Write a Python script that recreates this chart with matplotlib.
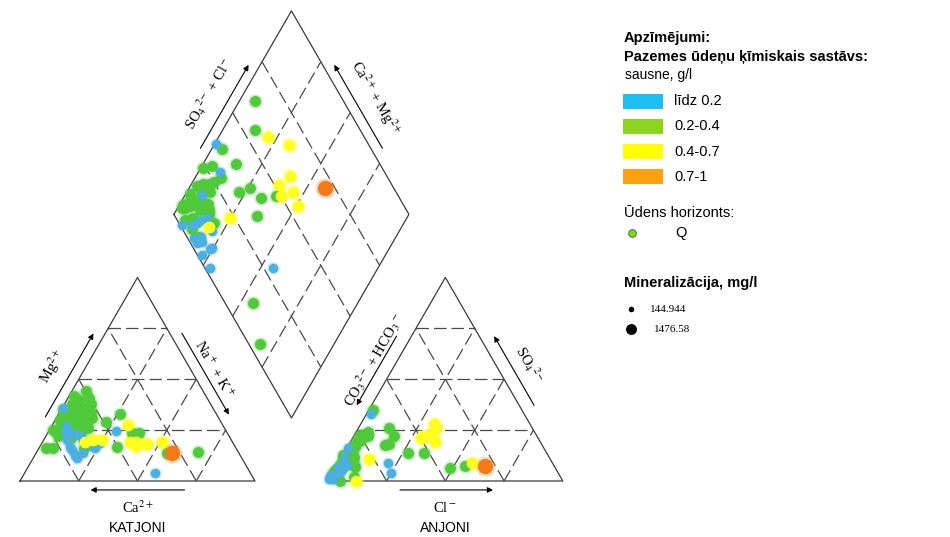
import numpy as np
import matplotlib.pyplot as plt
from matplotlib.patches import Rectangle

plt.rcParams['mathtext.fontset'] = 'stix'

# fractions (meq): cations Mg, Na+K (Ca = rest); anions SO4, Cl (CO3+HCO3 = rest)
blue_mg = [0.039, 0.186, 0.245, 0.152, 0.127, 0.167, 0.113, 0.24, 0.24, 0.358, 0.20, 0.17, 0.14, 0.27, 0.22,
           0.20, 0.16, 0.23]
blue_nak = [0.555, 0.247, 0.286, 0.145, 0.17, 0.13, 0.187, 0.07, 0.09, 0.004, 0.10, 0.22, 0.20, 0.06, 0.15,
            0.17, 0.24, 0.12]
blue_so4 = [0.04, 0.05, 0.01, 0.02, 0.04, 0.08, 0.03, 0.16, 0.088, 0.33, 0.03, 0.02, 0.08, 0.01, 0.12,
            0.03, 0.05, 0.07]
blue_cl = [0.25, 0.03, 0.015, 0.01, 0.02, 0.02, 0.02, 0.005, 0.212, 0.02, 0.02, 0.0, 0.04, 0.0, 0.01,
           0.0, 0.02, 0.01]

green_mg = [0.42, 0.40, 0.38, 0.36, 0.35, 0.33, 0.32, 0.30, 0.30, 0.28, 0.27, 0.25, 0.24, 0.22, 0.21,
            0.34, 0.38, 0.26, 0.31, 0.44, 0.16, 0.16, 0.29, 0.33, 0.235, 0.235, 0.167, 0.162, 0.142,
            0.14, 0.30, 0.28, 0.38, 0.30, 0.36, 0.25, 0.37, 0.33, 0.29, 0.41, 0.27, 0.35, 0.31, 0.23]
green_nak = [0.02, 0.05, 0.03, 0.08, 0.01, 0.05, 0.10, 0.02, 0.07, 0.12, 0.04, 0.09, 0.14, 0.05, 0.11,
             0.13, 0.11, 0.16, 0.15, 0.06, 0.03, 0.06, 0.22, 0.26, 0.36, 0.39, 0.33, 0.19, 0.686,
             0.556, 0.065, 0.138, 0.046, 0.14, 0.09, 0.015, 0.04, 0.09, 0.05, 0.09, 0.10, 0.06, 0.03, 0.08]
green_so4 = [0.10, 0.15, 0.05, 0.12, 0.20, 0.08, 0.18, 0.03, 0.10, 0.14, 0.22, 0.06, 0.12, 0.16, 0.04,
             0.09, 0.24, 0.02, 0.07, 0.13, 0.06, 0.11, 0.176, 0.26, 0.18, 0.14, 0.14, 0.09, 0.0,
             0.02, 0.074, 0.064, 0.348, 0.22, 0.225, 0.05, 0.07, 0.13, 0.17, 0.05, 0.10, 0.02, 0.12, 0.20]
green_cl = [0.02, 0.03, 0.01, 0.02, 0.04, 0.01, 0.03, 0.02, 0.05, 0.03, 0.06, 0.01, 0.04, 0.02, 0.00,
            0.06, 0.05, 0.03, 0.08, 0.00, 0.02, 0.01, 0.155, 0.13, 0.17, 0.34, 0.27, 0.06, 0.05,
            0.10, 0.547, 0.488, 0.018, 0.17, 0.024, 0.01, 0.03, 0.02, 0.03, 0.01, 0.02, 0.01, 0.05, 0.03]

yellow_mg = [0.20, 0.275, 0.19, 0.19, 0.19, 0.18, 0.17, 0.19, 0.20]
yellow_nak = [0.21, 0.32, 0.51, 0.375, 0.40, 0.45, 0.41, 0.18, 0.25]
yellow_so4 = [0.28, 0.09, 0.19, 0.22, 0.26, 0.23, 0.21, 0.00, 0.11]
yellow_cl = [0.31, 0.57, 0.36, 0.30, 0.33, 0.33, 0.29, 0.12, 0.12]

orange_mg = [0.137]
orange_nak = [0.578]
orange_so4 = [0.074]
orange_cl = [0.632]

classes = ['līdz 0.2', '0.2-0.4', '0.4-0.7', '0.7-1']
point_colors = ['#4bafe2', '#50c93a', '#ffff1e', '#f27a1a']
legend_colors = ['#1ec0f4', '#8bd61c', '#ffff00', '#ffa00f']
sizes = [46, 62, 72, 120]

H = np.sqrt(3) / 2
G = 0.31  # gap between triangles


def tri(x0, right, top):
    right = np.asarray(right)
    top = np.asarray(top)
    return x0 + right + top / 2, top * H


def dia(a, c):
    a = np.asarray(a)
    c = np.asarray(c)
    lx, ly = 0.5 + G / 2, H * (1 + G)
    return lx + 0.5 * (a + c), ly + H * (a - c)


def along(p0, p1, t, off, center):
    p0, p1 = np.array(p0, float), np.array(p1, float)
    d = p1 - p0
    n = np.array([-d[1], d[0]]) / np.hypot(*d)
    if np.dot(n, p0 - center) < 0:
        n = -n
    return p0 + t * d + off * n


fig = plt.figure(figsize=(9.5, 5.37), dpi=100)
ax = fig.add_axes([0, 0, 1, 1])
ax.set_xlim(-20 / 235, 930 / 235)
ax.set_ylim(-56 / 235, 481 / 235)
ax.axis('off')

frame = dict(color='#3a3a3a', lw=0.9)
dash = dict(color='#4a4a4a', lw=0.9, ls=(0, (10, 4)))

# triangles
for x0 in (0, 1 + G):
    xs, ys = tri(x0, [0, 1, 0, 0], [0, 0, 1, 0])
    ax.plot(xs, ys, **frame)
    for f in (0.25, 0.5, 0.75):
        for r, t in (([0, 1 - f], [f, f]), ([f, f], [0, 1 - f]), ([1 - f, 0], [0, 1 - f])):
            xs, ys = tri(x0, r, t)
            ax.plot(xs, ys, **dash)

# diamond
xs, ys = dia([0, 1, 1, 0, 0], [0, 0, 1, 1, 0])
ax.plot(xs, ys, **frame)
for f in (0.25, 0.5, 0.75):
    xs, ys = dia([f, f], [0, 1])
    ax.plot(xs, ys, **dash)
    xs, ys = dia([0, 1], [f, f])
    ax.plot(xs, ys, **dash)

# points
groups = [(blue_mg, blue_nak, blue_so4, blue_cl),
          (green_mg, green_nak, green_so4, green_cl),
          (yellow_mg, yellow_nak, yellow_so4, yellow_cl),
          (orange_mg, orange_nak, orange_so4, orange_cl)]
order = [1, 0, 2, 3]
for i in order:
    mg, nak, so4, cl = [np.array(v) for v in groups[i]]
    pts = [tri(0, nak, mg), tri(1 + G, cl, so4), dia(so4 + cl, nak)]
    for px, py in pts:
        ax.scatter(px, py, s=sizes[i] * 1.7, color=point_colors[i], alpha=0.3, lw=0, zorder=3)
        ax.scatter(px, py, s=sizes[i], color=point_colors[i], lw=0, zorder=4)

# axis arrows and labels
serif = dict(family='Liberation Serif', fontsize=10.5, ha='center', va='center',
             rotation_mode='anchor')


def arrow_label(p0, p1, t0, t1, off, tl, loff, text, rot, center):
    a = along(p0, p1, t0, off, center)
    b = along(p0, p1, t1, off, center)
    ax.annotate('', xy=b, xytext=a,
                arrowprops=dict(arrowstyle='-|>', color='black', lw=0.8, mutation_scale=8,
                                shrinkA=0, shrinkB=0))
    p = along(p0, p1, tl, loff, center)
    ax.text(p[0], p[1], text, rotation=rot, **serif)


A = (0, 0); B = (1, 0); C = (0.5, H)
cL = np.array([0.5, H / 3])
arrow_label(A, C, 0.29, 0.70, 0.043, 0.49, 0.122, 'Mg$^{2+}$', 60, cL)
arrow_label(C, B, 0.30, 0.70, 0.045, 0.50, 0.085, 'Na$^+$ + K$^+$', -60, cL)
arrow_label(B, A, 0.30, 0.70, 0.038, 0.50, 0.115, 'Ca$^{2+}$', 0, cL)
p = along(B, A, 0.5, 0.2, cL)
ax.text(p[0], p[1], 'KATJONI', family='Liberation Sans', fontsize=10, ha='center', va='center')

A2 = (1 + G, 0); B2 = (2 + G, 0); C2 = (1.5 + G, H)
cR = np.array([1.5 + G, H / 3])
arrow_label(C2, A2, 0.32, 0.66, 0.055, 0.454, 0.088, 'CO$_3$$^{2-}$ + HCO$_3$$^-$', 60, cR)
arrow_label(B2, C2, 0.34, 0.68, 0.055, 0.50, 0.122, 'SO$_4$$^{2-}$', -60, cR)
arrow_label(A2, B2, 0.307, 0.703, 0.038, 0.50, 0.115, 'Cl$^-$', 0, cR)
p = along(A2, B2, 0.5, 0.2, cR)
ax.text(p[0], p[1], 'ANJONI', family='Liberation Sans', fontsize=10, ha='center', va='center')

L = dia(0, 0); T = dia(1, 0); R = dia(1, 1)
cD = np.array(dia(0.5, 0.5))
arrow_label(L, T, 0.30, 0.71, 0.043, 0.52, 0.13, 'SO$_4$$^{2-}$ + Cl$^-$', 60, cD)
arrow_label(R, T, 0.30, 0.71, 0.043, 0.50, 0.123, 'Ca$^{2+}$ + Mg$^{2+}$', -60, cD)

# legend (pixel coordinates)
lax = fig.add_axes([0, 0, 1, 1])
lax.set_xlim(0, 950)
lax.set_ylim(537, 0)
lax.axis('off')
sans = dict(family='Liberation Sans', va='center', ha='left')
lax.text(624, 38, 'Apzīmējumi:', fontsize=10.5, weight='bold', **sans)
lax.text(624, 57, 'Pazemes ūdeņu ķīmiskais sastāvs:', fontsize=10.5, weight='bold', **sans)
lax.text(625, 75, 'sausne, g/l', fontsize=10, **sans)
for k, lab in enumerate(classes):
    yc = 101 + k * 25.3
    lax.add_patch(Rectangle((623, yc - 7.5), 40, 15, color=legend_colors[k], lw=0))
    lax.text(674, yc, lab, fontsize=10.5, **sans)
lax.text(624, 213, 'Ūdens horizonts:', fontsize=10.5, **sans)
lax.scatter([632], [233], s=30, color='#8bd61c', edgecolors='#3d8a2a', lw=0.8)
lax.text(675, 233, 'Q', fontsize=10.5, **sans)
lax.text(624, 283, 'Mineralizācija, mg/l', fontsize=10.5, weight='bold', **sans)
lax.scatter([631], [309], s=16, color='black', lw=0)
lax.text(650, 309, '144.944', family='Liberation Serif', fontsize=8, va='center')
lax.scatter([631], [329], s=62, color='black', lw=0)
lax.text(654, 329, '1476.58', family='Liberation Serif', fontsize=8, va='center')

fig.savefig('out.png', dpi=100, facecolor='white')
